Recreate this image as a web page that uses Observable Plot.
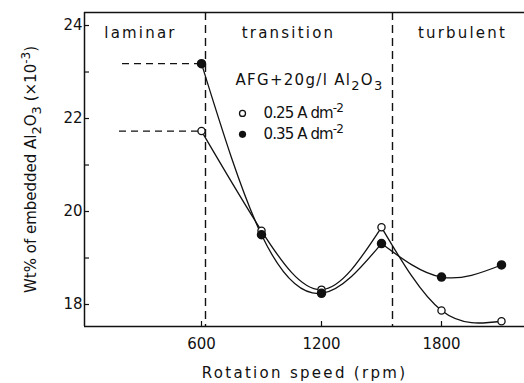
<!DOCTYPE html>
<html><head><meta charset="utf-8">
<script src="https://cdn.jsdelivr.net/npm/d3@7"></script>
<script src="https://cdn.jsdelivr.net/npm/@observablehq/plot@0.6"></script>
<style>
html,body{margin:0;padding:0;background:#fff;}
</style>
</head><body><div id="chart"></div>
<script>
// ---- data ----
const rpm = [600, 900, 1200, 1500, 1800, 2100];
const open025 = [21.73, 19.585, 18.32, 19.66, 17.87, 17.64];
const filled035 = [23.18, 19.50, 18.24, 19.31, 18.59, 18.85];
const seriesKeys = ["0.25", "0.35"];
const peakRpm = 1500;
const regimeBounds = [620, 1555];
const regimeNames = ["laminar", "transition", "turbulent"];
const regimeLabelX = [295, 1035, 1905];
const regimeLabelY = [23.83, 23.83, 23.83];
const guideStart = [190, 205];
const xTicks = [600, 1200, 1800];
const yTicks = [18, 20, 22, 24];
const yMinorTicks = [19, 21, 23];
const xDomain = [15, 2215];
const yDomain = [17.527, 24.28];
const legendX = 805, legendTextX = 910, legendHeaderX = 770;
const legendY = [22.11, 21.66];
const legendHeaderY = 22.82;

// ---- build tables ----
const rows = [];
[open025, filled035].forEach((vals, s) =>
  rpm.forEach((r, i) => rows.push({rpm: r, v: vals[i], series: seriesKeys[s], filled: s === 1})));
const segRows = [];
rows.forEach(d => {
  if (d.rpm <= peakRpm) segRows.push({...d, seg: d.series + "A"});
  if (d.rpm >= peakRpm) segRows.push({...d, seg: d.series + "B"});
});
const guides = [open025, filled035].map((vals, s) => ({x1: guideStart[s], x2: rpm[0], y: vals[0]}));
const regimes = regimeNames.map((n, i) => ({name: n, x: regimeLabelX[i], y: regimeLabelY[i]}));
const legend = seriesKeys.map((k, i) => ({key: "__L" + i + "__", y: legendY[i], filled: i === 1}));

const W = 524, H = 383, mL = 84, mT = 12, mB = 57, mR = 0;
const frameW = W - mL - mR, frameH = H - mT - mB;
const font = "'DejaVu Sans', Verdana, sans-serif";
const ink = "#111";

const svg = Plot.plot({
  width: W, height: H, marginLeft: mL, marginTop: mT, marginBottom: mB, marginRight: mR,
  style: {fontFamily: font, fontSize: "15px", color: ink, background: "#fff"},
  x: {domain: xDomain, ticks: xTicks, tickFormat: d => String(d), tickSize: 0, tickPadding: 12, label: null},
  y: {domain: yDomain, ticks: yTicks, tickFormat: d => String(d), tickSize: 0, tickPadding: 2, label: null},
  marks: [
    // frame (top, bottom, left)
    Plot.ruleY([yDomain[1], yDomain[0]], {stroke: ink, strokeWidth: 1.5}),
    Plot.ruleX([xDomain[0]], {stroke: ink, strokeWidth: 1.5}),
    // inward ticks
    Plot.tickY([...yTicks, ...yMinorTicks], {y: d => d, insetRight: frameW - 5, stroke: ink, strokeWidth: 1.2}),
    Plot.tickX(xTicks, {x: d => d, insetTop: frameH - 5, stroke: ink, strokeWidth: 1.2}),
    // regime boundaries
    Plot.ruleX(regimeBounds, {stroke: ink, strokeWidth: 1.4, strokeDasharray: "8,5"}),
    // guide lines to the 600 rpm values
    Plot.ruleY(guides, {x1: "x1", x2: "x2", y: "y", stroke: ink, strokeWidth: 1.3, strokeDasharray: "7,5"}),
    // curves
    Plot.line(segRows, {x: "rpm", y: "v", z: "seg", curve: "natural", stroke: ink, strokeWidth: 1.3}),
    Plot.dot(rows.filter(d => !d.filled), {x: "rpm", y: "v", r: 3.6, fill: "#fff", stroke: ink, strokeWidth: 1.3}),
    Plot.dot(rows.filter(d => d.filled), {x: "rpm", y: "v", r: 4, fill: ink, stroke: ink}),
    // regime labels
    Plot.text(regimes, {x: "x", y: "y", text: "name", fontSize: 15, fill: ink}),
    // legend
    Plot.text(["__LH__"], {x: legendHeaderX, y: legendHeaderY, textAnchor: "start", fontSize: 15, fill: ink}),
    Plot.dot(legend.filter(d => !d.filled), {x: legendX, y: "y", r: 3, fill: "#fff", stroke: ink, strokeWidth: 1.3}),
    Plot.dot(legend.filter(d => d.filled), {x: legendX, y: "y", r: 3.6, fill: ink}),
    Plot.text(legend, {x: legendTextX, y: "y", text: "key", textAnchor: "start", fontSize: 15, fill: ink}),
    // axis titles
    Plot.text(["__YL__"], {frameAnchor: "left", dx: -53, rotate: -90, textAnchor: "middle", lineAnchor: "middle", fontSize: 15, fill: ink}),
    Plot.text(["__XL__"], {frameAnchor: "bottom", dy: 47, textAnchor: "middle", lineAnchor: "middle", fontSize: 15, fill: ink})
  ]
});
document.getElementById("chart").appendChild(svg);

// rich text with sub/superscripts
function rich(key, parts, style) {
  d3.select(svg).selectAll("text").filter(function () { return this.textContent === key; }).each(function () {
    const t = d3.select(this);
    t.text(null);
    if (style) for (const k in style) t.style(k, style[k]);
    let cur = 0;
    parts.forEach(([s, mode]) => {
      const target = mode === "sub" ? 5 : mode === "sup" ? -6 : 0;
      const sp = t.append("tspan").text(s).attr("dy", target - cur);
      if (mode) sp.attr("font-size", mode === "sub" ? 13 : 12);
      cur = target;
    });
  });
}
rich("__LH__", [["AFG+20g/l Al"], ["2", "sub"], ["O"], ["3", "sub"]], {"letter-spacing": "1.3px"});
rich("__L0__", [["0.25 A dm"], ["-2", "sup"]], {"letter-spacing": "-0.9px"});
rich("__L1__", [["0.35 A dm"], ["-2", "sup"]], {"letter-spacing": "-0.9px"});
rich("__YL__", [["Wt% of embedded Al"], ["2", "sub"], ["O"], ["3", "sub"], [" (×10"], ["-3", "sup"], [")"]], {"letter-spacing": "0px"});
rich("__XL__", [["Rotation speed (rpm)"]], {"letter-spacing": "2.3px"});
d3.select(svg).selectAll("text").filter(function () { return regimeNames.includes(this.textContent); })
  .style("letter-spacing", "2.2px");
</script>
</body></html>
